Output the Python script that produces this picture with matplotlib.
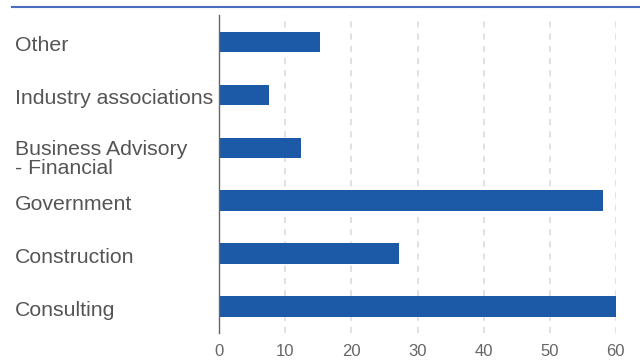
import matplotlib.pyplot as plt
from matplotlib.lines import Line2D
from matplotlib.transforms import blended_transform_factory

categories = ["Consulting", "Construction", "Government",
              "Business Advisory\n- Financial", "Industry associations", "Other"]
values = [60, 27.2, 58.0, 12.3, 7.5, 15.3]
xticks = [0, 10, 20, 30, 40, 50, 60]

plt.rcParams['font.family'] = ['Liberation Sans', 'DejaVu Sans']

fig = plt.figure(figsize=(6.4, 3.6), dpi=100)
ax = fig.add_axes([0.3427, 0.075, 0.6195, 0.883])

pos = list(range(len(categories)))
ax.barh(pos, values, height=0.38, color='#1c5aa7', zorder=3)

ax.set_xlim(0, 60)
ax.set_ylim(-0.5, 5.5)
ax.set_xticks(xticks)
ax.set_xticklabels([str(t) for t in xticks])
ax.set_yticks([])
ax.tick_params(axis='x', length=0, pad=8, labelsize=12, labelcolor='#666666')

ax.grid(axis='x', color='#d9d9d9', linestyle=(0, (4, 4)), linewidth=1.1, zorder=0)
for s in ['top', 'right', 'bottom']:
    ax.spines[s].set_visible(False)
ax.spines['left'].set_color('#666666')
ax.spines['left'].set_linewidth(1)
ax.spines['left'].set_zorder(4)

# category names, left-aligned in the margin
trans = blended_transform_factory(fig.transFigure, ax.transData)
for p, name in zip(pos, categories):
    if '\n' in name:
        ax.text(15 / 640, p - 0.22, name, transform=trans, ha='left', va='center',
                fontsize=15.3, color='#555555', linespacing=0.98)
    else:
        ax.text(15 / 640, p - 0.08, name, transform=trans, ha='left', va='center',
                fontsize=15.3, color='#555555')

# blue rule across the top
fig.add_artist(Line2D([12 / 640, 1.0], [1 - 7 / 360, 1 - 7 / 360],
                      transform=fig.transFigure, color='#4a6dc2', linewidth=1.5))

fig.savefig('out.png', dpi=100)
